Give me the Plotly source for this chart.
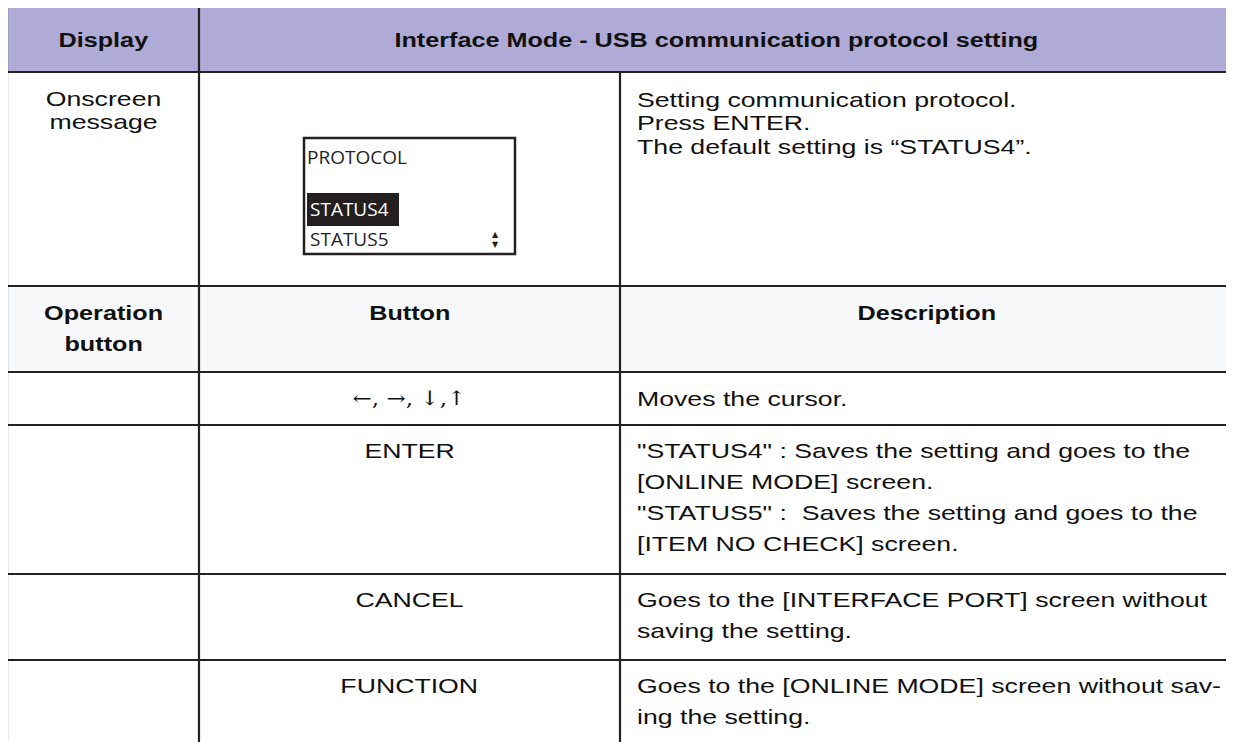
import json
import plotly.graph_objects as go

# ---- content ----
header_left = "Display"
header_title = "Interface Mode - USB communication protocol setting"
onscreen_label = ["Onscreen", "message"]
onscreen_desc = ["Setting communication protocol.", "Press ENTER.",
                 "The default setting is \u201cSTATUS4\u201d."]
lcd_title = "PROTOCOL"
lcd_items = ["STATUS4", "STATUS5"]
op_header = [["Operation", "button"], ["Button"], ["Description"]]
buttons = ["\u2190, \u2192, \u2193,\u2191", "ENTER", "CANCEL", "FUNCTION"]
descriptions = [
    ["Moves the cursor."],
    ["\"STATUS4\" : Saves the setting and goes to the", "[ONLINE MODE] screen.",
     "\"STATUS5\" :  Saves the setting and goes to the", "[ITEM NO CHECK] screen."],
    ["Goes to the [INTERFACE PORT] screen without", "saving the setting."],
    ["Goes to the [ONLINE MODE] screen without sav-", "ing the setting."],
]

# ---- layout geometry (page pixels) ----
W, H = 1234, 742
OFF = 8  # default body margin of the page
col_x = [7, 199, 620, W + 5]
row_y = [7, 72, 286, 372, 425, 574, 660, H + 5]
LH_BODY = 31
LH_TOP = 23.5
FS = 21
FONT = "Liberation Sans, Arial, sans-serif"
TXT = "#111111"
LINE_COLOR = "#222222"
HEADER_FILL = "#b0aad6"
SUBHEAD_FILL = "#f7f8fa"
STRETCH_REG = 1.27
STRETCH_BOLD = 1.2

shapes = []
annotations = []
stretch = {}

def rect(x0, y0, x1, y1, fill):
    shapes.append(dict(type="rect", xref="x", yref="y", x0=x0, y0=y0, x1=x1, y1=y1,
                       fillcolor=fill, line=dict(width=0), layer="below"))

def line(x0, y0, x1, y1, w=2.2):
    shapes.append(dict(type="line", xref="x", yref="y", x0=x0, y0=y0, x1=x1, y1=y1,
                       line=dict(width=w, color=LINE_COLOR)))

def text(x, y, s, anchor="center", bold=False, size=FS, color=TXT, family=FONT, sx=None):
    annotations.append(dict(x=x, y=y, xref="x", yref="y", text=(f"<b>{s}</b>" if bold else s),
                            showarrow=False, xanchor=anchor, yanchor="middle",
                            font=dict(family=family, size=size, color=color)))
    if sx is None:
        sx = STRETCH_BOLD if bold else STRETCH_REG
    if sx != 1:
        stretch[len(annotations) - 1] = [sx, "left center" if anchor == "left" else "center center"]

def lines_at(x, y0, items, lh, anchor="center", bold=False):
    for i, s in enumerate(items):
        text(x, y0 + i * lh, s, anchor=anchor, bold=bold)

# fills
rect(col_x[0], row_y[0], col_x[3], row_y[1], HEADER_FILL)
rect(col_x[0], row_y[2], col_x[3], row_y[3], SUBHEAD_FILL)

# grid lines
for y in row_y[:-1]:
    line(col_x[0] - 1, y, col_x[3], y)
line(col_x[0], row_y[0], col_x[0], row_y[-1])
line(col_x[1], row_y[0], col_x[1], row_y[-1])
line(col_x[2], row_y[1], col_x[2], row_y[-1])

c1 = (col_x[0] + col_x[1]) / 2
c2 = (col_x[1] + col_x[2]) / 2
c3 = (col_x[2] + 1234) / 2
c23 = (col_x[1] + 1234) / 2
left3 = col_x[2] + 15

# header
text(c1, (row_y[0] + row_y[1]) / 2, header_left, bold=True)
text(c23, (row_y[0] + row_y[1]) / 2, header_title, bold=True)

# onscreen row
lines_at(c1, 98, onscreen_label, LH_TOP)
lines_at(left3, 99, onscreen_desc, LH_TOP, anchor="left")

# LCD mock screen
lx0, ly0, lx1, ly1 = 304, 138, 515, 254
shapes.append(dict(type="rect", xref="x", yref="y", x0=lx0, y0=ly0, x1=lx1, y1=ly1,
                   fillcolor="white", line=dict(width=2.5, color="#231f20")))
shapes.append(dict(type="rect", xref="x", yref="y", x0=lx0 + 3, y0=193, x1=399, y1=226,
                   fillcolor="#231f20", line=dict(width=0)))
LCD_FONT = "Open Sans, sans-serif"
text(lx0 + 1, 157, lcd_title, anchor="left", size=19, family=LCD_FONT, color="#231f20", sx=1)
text(lx0 + 4, 209, lcd_items[0], anchor="left", size=19, family=LCD_FONT, color="white", sx=1)
text(lx0 + 4, 239, lcd_items[1], anchor="left", size=19, family=LCD_FONT, color="#231f20", sx=1)
text(495, 239, "\u25b2<br>\u25bc", size=8, family="DejaVu Sans", color="#231f20", sx=1)

# operation header row
lines_at(c1, 312, op_header[0], LH_BODY, bold=True)
lines_at(c2, 312, op_header[1], LH_BODY, bold=True)
lines_at(c3, 312, op_header[2], LH_BODY, bold=True)

# body rows
first_line_y = [398, 450, 599, 685]
for b, d, y in zip(buttons, descriptions, first_line_y):
    if b.startswith("\u2190"):
        text(c2, y, b, family="DejaVu Serif", size=20, sx=1.15)
    else:
        text(c2, y, b)
    lines_at(left3, y, d, LH_BODY, anchor="left")

fig = go.Figure()
fig.update_layout(
    width=W - OFF, height=H - OFF, margin=dict(l=0, r=0, t=0, b=0),
    paper_bgcolor="white", plot_bgcolor="white",
    xaxis=dict(range=[OFF, W], visible=False, fixedrange=True),
    yaxis=dict(range=[H, OFF], visible=False, fixedrange=True),
    shapes=shapes, annotations=annotations, showlegend=False,
)

post = """
var gd = document.getElementById('{plot_id}');
var spec = SPEC;
gd.querySelectorAll('g.annotation').forEach(function(g){
  var s = spec[g.getAttribute('data-index')];
  if(!s) return;
  var t = g.querySelector('text.annotation-text');
  if(!t) return;
  t.style.transformBox = 'fill-box';
  t.style.transformOrigin = s[1];
  t.style.transform = 'scaleX(' + s[0] + ')';
});
""".replace("SPEC", json.dumps({str(k): v for k, v in stretch.items()}))

fig.write_html("out.html", config={"displayModeBar": False}, post_script=post)
